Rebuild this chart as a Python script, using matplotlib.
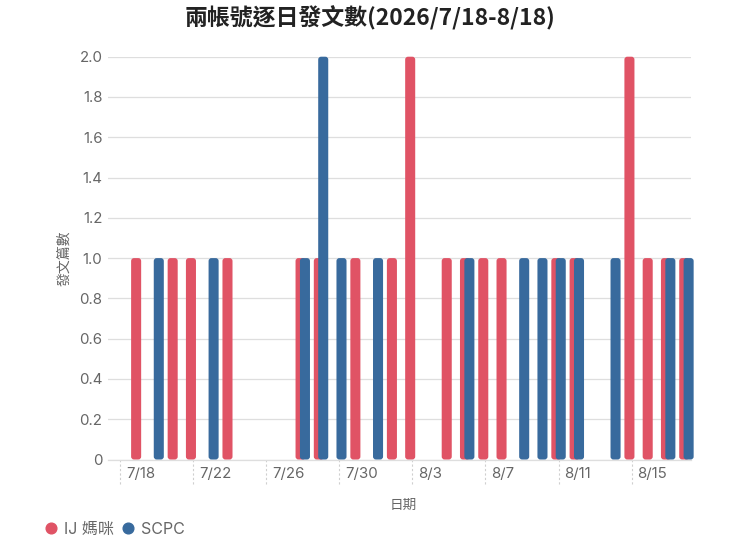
import matplotlib
matplotlib.use("Agg")
import matplotlib.pyplot as plt
import numpy as np
from matplotlib.patches import FancyBboxPatch
from matplotlib.lines import Line2D
from matplotlib.transforms import ScaledTranslation

DAYS = ["7/18", "7/19", "7/20", "7/21", "7/22", "7/23", "7/24", "7/25",
        "7/26", "7/27", "7/28", "7/29", "7/30", "7/31", "8/1", "8/2",
        "8/3", "8/4", "8/5", "8/6", "8/7", "8/8", "8/9", "8/10",
        "8/11", "8/12", "8/13", "8/14", "8/15", "8/16", "8/17", "8/18"]
IJ = [0, 1, 0, 1, 1, 0, 1, 0, 0, 0, 1, 1, 0, 1, 0, 1,
      2, 0, 1, 1, 1, 1, 0, 0, 1, 1, 0, 0, 2, 1, 1, 1]
SCPC = [0, 0, 1, 0, 0, 1, 0, 0, 0, 0, 1, 2, 1, 0, 1, 0,
        0, 0, 0, 1, 0, 0, 1, 1, 1, 1, 0, 1, 0, 0, 1, 1]
TICK_DAYS = ["7/18", "7/22", "7/26", "7/30", "8/3", "8/7", "8/11", "8/15"]
Y_TICKS = [0, 0.2, 0.4, 0.6, 0.8, 1.0, 1.2, 1.4, 1.6, 1.8, 2.0]
SERIES = ["IJ 媽咪", "SCPC"]

RED, BLUE = "#E05365", "#386A9D"
TXT, GRID = "#666666", "#dedede"

plt.rcParams["font.family"] = ["Inter", "Noto Sans CJK TC", "DejaVu Sans"]

W, H = 740, 556
AX_H = 459.5 - 56.7
fig = plt.figure(figsize=(W / 100, H / 100), dpi=100)
ax = fig.add_axes([108 / W, 1 - 459.5 / H, 583 / W, AX_H / H])

x = np.arange(len(DAYS))
ax.set_xlim(-0.66, 31.25)
ax.set_ylim(0, 2.0)

# px per data unit, so the rounded corners come out circular on screen
fig.canvas.draw()
(x0, y0), (x1, y1) = ax.transData.transform([(0, 0), (1, 1)])
aspect = (x1 - x0) / (y1 - y0)


def rounded(bars, color):
    for r in list(bars):
        bx, by = r.get_xy()
        bw, bh = r.get_width(), r.get_height()
        r.remove()
        if bh <= 0:
            continue
        ax.add_patch(FancyBboxPatch((bx, by), bw, bh,
                                    boxstyle="round,pad=0,rounding_size=0.16",
                                    mutation_aspect=aspect, fc=color, ec="none",
                                    zorder=3, clip_on=False))


bw = 0.55
rounded(ax.bar(x - 0.12, IJ, width=bw), RED)
rounded(ax.bar(x + 0.12, SCPC, width=bw), BLUE)

ax.set_yticks(Y_TICKS)
ax.set_yticklabels(["0" if v == 0 else "%.1f" % v for v in Y_TICKS])
ax.grid(axis="y", color=GRID, lw=0.9, zorder=0)
ax.set_axisbelow(True)
for s in ["top", "right", "left"]:
    ax.spines[s].set_visible(False)
ax.spines["bottom"].set_color(GRID)
ax.spines["bottom"].set_linewidth(0.9)
ax.tick_params(axis="y", length=0, pad=4, labelsize=10.8, labelcolor=TXT)

# x ticks: dashed stubs below the axis, labels start just right of each stub
tpos = [DAYS.index(d) for d in TICK_DAYS]
ax.set_xticks(tpos)
ax.set_xticklabels([])
ax.tick_params(axis="x", length=0)
ax.vlines(tpos, -24 / AX_H, 0, transform=ax.get_xaxis_transform(),
          colors="#cfcfcf", linestyles=(0, (2, 2)), lw=0.8, clip_on=False)
shift = ax.get_xaxis_transform() + ScaledTranslation(6 / 100, 0, fig.dpi_scale_trans)
for p, lab in zip(tpos, TICK_DAYS):
    ax.text(p, -14.5 / AX_H, lab, transform=shift, ha="left", va="center",
            fontsize=10.8, color=TXT)

ax.set_ylabel("發文篇數", fontsize=10, color=TXT, va="center")
ax.yaxis.set_label_coords(-(108 - 64) / 583, 0.5)
fig.text(403 / W, 1 - 505 / H, "日期", fontsize=9.8, color=TXT,
         ha="center", va="center")
fig.text(370 / W, 1 - 18 / H, "兩帳號逐日發文數(2026/7/18-8/18)",
         fontsize=16.5, fontweight="bold", color="#222222",
         ha="center", va="center", family=["Noto Sans CJK TC"])

handles = [Line2D([], [], marker="o", ls="", ms=7.7, color=c, label=l)
           for c, l in zip([RED, BLUE], SERIES)]
fig.legend(handles=handles, loc="center left", bbox_to_anchor=(45 / W, 1 - 529 / H),
           ncol=2, frameon=False, fontsize=11.5, labelcolor=TXT,
           handlelength=0.8, handletextpad=0.4, columnspacing=0.5,
           borderpad=0, borderaxespad=0)

fig.savefig("out.png", dpi=100)
